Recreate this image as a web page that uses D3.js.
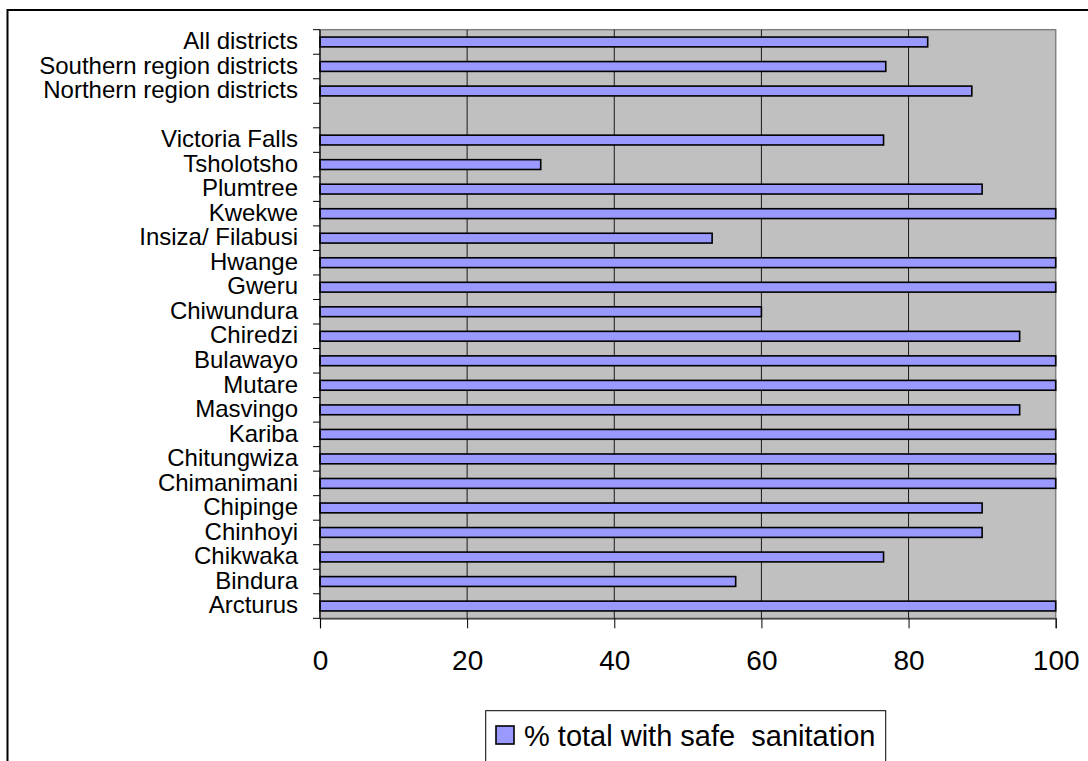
<!DOCTYPE html>
<html>
<head>
<meta charset="utf-8">
<script src="https://cdn.jsdelivr.net/npm/d3@7"></script>
<style>
  html, body { margin: 0; padding: 0; background: #fff; }
  svg { display: block; font-family: "Liberation Sans", Arial, sans-serif; }
</style>
</head>
<body>
<svg id="chart" width="1088" height="761"></svg>
<script>
// Districts, top to bottom; the empty entry is a spacer row between the summary rows and the districts
const categories = [
  "All districts", "Southern region districts", "Northern region districts", "",
  "Victoria Falls", "Tsholotsho", "Plumtree", "Kwekwe", "Insiza/ Filabusi", "Hwange",
  "Gweru", "Chiwundura", "Chiredzi", "Bulawayo", "Mutare", "Masvingo", "Kariba",
  "Chitungwiza", "Chimanimani", "Chipinge", "Chinhoyi", "Chikwaka", "Bindura", "Arcturus"
];
// % total with safe sanitation
const values = [
  82.6, 76.9, 88.6, null,
  76.6, 30, 90, 100, 53.3, 100,
  100, 60, 95.1, 100, 100, 95.1, 100,
  100, 100, 90, 90, 76.6, 56.5, 100
];
const xTicks = [0, 20, 40, 60, 80, 100];
const seriesName = "% total with safe  sanitation";

const svg = d3.select("#chart");

// Outer chart frame
svg.append("rect")
  .attr("x", 7.5).attr("y", 10)
  .attr("width", 1100).attr("height", 800)
  .attr("fill", "#fff").attr("stroke", "#000").attr("stroke-width", 2);

const plot = { left: 320, top: 29.7, right: 1055.7, bottom: 618.3 };

const x = d3.scaleLinear().domain([0, 100]).range([plot.left, plot.right]);
const y = d3.scaleBand().domain(categories).range([plot.top, plot.bottom]).padding(0);

// Plot background
svg.append("rect")
  .attr("x", plot.left).attr("y", plot.top)
  .attr("width", plot.right - plot.left).attr("height", plot.bottom - plot.top)
  .attr("fill", "#c0c0c0").attr("stroke", "#808080").attr("stroke-width", 1.5);

// Vertical gridlines
svg.append("g").selectAll("line")
  .data(xTicks.filter(d => d > 0 && d < 100))
  .join("line")
  .attr("x1", d => x(d)).attr("x2", d => x(d))
  .attr("y1", plot.top).attr("y2", plot.bottom)
  .attr("stroke", "#1a1a1a").attr("stroke-width", 1);

// Bars
const barFrac = 0.4;
svg.append("g").selectAll("rect")
  .data(categories.map((c, i) => ({ c, v: values[i] })).filter(d => d.v != null))
  .join("rect")
  .attr("x", x(0))
  .attr("y", d => y(d.c) + y.bandwidth() * (1 - barFrac) / 2)
  .attr("width", d => x(d.v) - x(0))
  .attr("height", y.bandwidth() * barFrac)
  .attr("fill", "#9999ff")
  .attr("stroke", "#000").attr("stroke-width", 1.6);

// Category axis: labels centered on rows, tick marks between rows
const yAxis = svg.append("g")
  .attr("transform", `translate(${plot.left},0)`)
  .call(d3.axisLeft(y).tickSize(0).tickPadding(22));
yAxis.select(".domain").remove();
yAxis.selectAll("text")
  .attr("font-size", 24).attr("fill", "#000")
  .attr("dy", "0.3em")
  .attr("font-family", "'Liberation Sans', Arial, sans-serif");

const boundaries = categories.map(c => y(c)).concat([plot.bottom]);
svg.append("g").selectAll("line")
  .data(boundaries)
  .join("line")
  .attr("x1", plot.left - 7).attr("x2", plot.left)
  .attr("y1", d => d).attr("y2", d => d)
  .attr("stroke", "#000").attr("stroke-width", 1);

svg.append("line")
  .attr("x1", plot.left).attr("x2", plot.left)
  .attr("y1", plot.top).attr("y2", plot.bottom)
  .attr("stroke", "#000").attr("stroke-width", 1.2);

// Value axis
const xAxis = svg.append("g")
  .attr("transform", `translate(0,${plot.bottom})`)
  .call(d3.axisBottom(x).tickValues(xTicks).tickSize(10).tickPadding(22).tickFormat(d3.format("d")));
xAxis.select(".domain").attr("stroke", "#333").attr("stroke-width", 1.2);
xAxis.selectAll("line").attr("stroke", "#000");
xAxis.selectAll("text")
  .attr("font-size", 28).attr("fill", "#000")
  .attr("font-family", "'Liberation Sans', Arial, sans-serif");

// Legend
const legend = svg.append("g");
legend.append("rect")
  .attr("x", 485.7).attr("y", 710.7).attr("width", 400).attr("height", 52)
  .attr("fill", "#fff").attr("stroke", "#000").attr("stroke-width", 1);
legend.append("rect")
  .attr("x", 496).attr("y", 726).attr("width", 18).attr("height", 18)
  .attr("fill", "#9999ff").attr("stroke", "#000").attr("stroke-width", 1.6);
legend.append("text")
  .attr("x", 524).attr("y", 746)
  .attr("font-size", 29).attr("fill", "#000")
  .attr("xml:space", "preserve")
  .text(seriesName);
</script>
</body>
</html>
